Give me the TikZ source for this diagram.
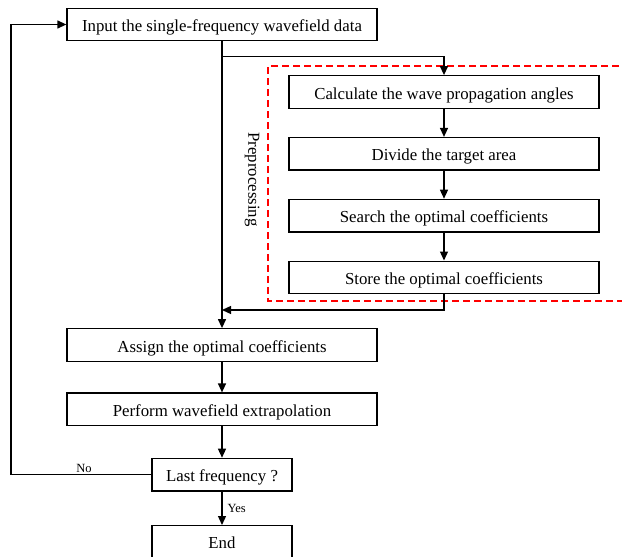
\documentclass[tikz,border=0pt]{standalone}
\usepackage{fontspec}
\setmainfont{Liberation Serif}
\usepackage{tikz}
\usetikzlibrary{
  arrows.meta,
  positioning,  % Function "of" (e.g. [below=of x])
}
\def\myboxwidth{310pt}
\def\myboxheight{32.5pt}
\tikzset{
  >={Triangle[length=9pt,width=8pt]},
  my box/.style={
    draw,
    rectangle,
    minimum width=\myboxwidth,
    minimum height=\myboxheight,
    inner sep=1mm,
    text height=16pt,
    text depth=2pt,
    font=\fontsize{16.8}{20}\selectfont
  },
  my small box/.style={
    my box,
    minimum width=140pt
  },
  my label/.style={
    inner sep=0pt,
    font=\fontsize{12.5}{15}\selectfont
  },
  my group/.style={
    draw=red,
    dash pattern=on 7pt off 4pt
  },
  flow/.style={
    line width=1.3pt,
    node distance=28pt,
    x=1pt,
    y=-1pt
  }
}
\begin{document}
\begin{tikzpicture}[flow]
\useasboundingbox (0,0) rectangle (622,557);
% preprocessing group
\draw[my group] (630,66) -- (268,66) -- (268,301) -- (630,301);
\node[rotate=-90,inner sep=0pt,font=\fontsize{16.8}{20}\selectfont]
  (pre) at (252,179.5) {Preprocessing};
\node[my box]       (input)              at (222,24.5) {Input the single-frequency wavefield data};
\node[my box]       (calc)               at (444,92)   {Calculate the wave propagation angles};
\node[my box]       (divide) [below=of calc]   {Divide the target area};
\node[my box]       (search) [below=of divide] {Search the optimal coefficients};
\node[my box]       (store)  [below=of search] {Store the optimal coefficients};
\node[my box]       (assign)             at (222,345)  {Assign the optimal coefficients};
\node[my box]       (extra)  [below=30.5pt of assign]  {Perform wavefield extrapolation};
\node[my small box] (last)   [below=31.5pt of extra]   {Last frequency ?};
\node[my small box] (end)    [below=33.5pt of last]    {End};
\coordinate (split) at (222,56.5);
\coordinate (merge) at (222,310);
\coordinate (rail)  at (11,0);
\draw[->] (input) -- (assign);
\draw[->] (split) -| (calc);
\draw[->] (calc) -- (divide);
\draw[->] (divide) -- (search);
\draw[->] (search) -- (store);
\draw[->] (store) |- (merge);
\draw[->] (assign) -- (extra);
\draw[->] (extra) -- (last);
\draw[->] (last) -- (end) node[my label,pos=0.5,right=5pt]{Yes};
\draw[->] (last.west) -- (last.west -| rail) |- (input);
\node[my label] (no) at (84,468) {No};
\end{tikzpicture}
\end{document}
